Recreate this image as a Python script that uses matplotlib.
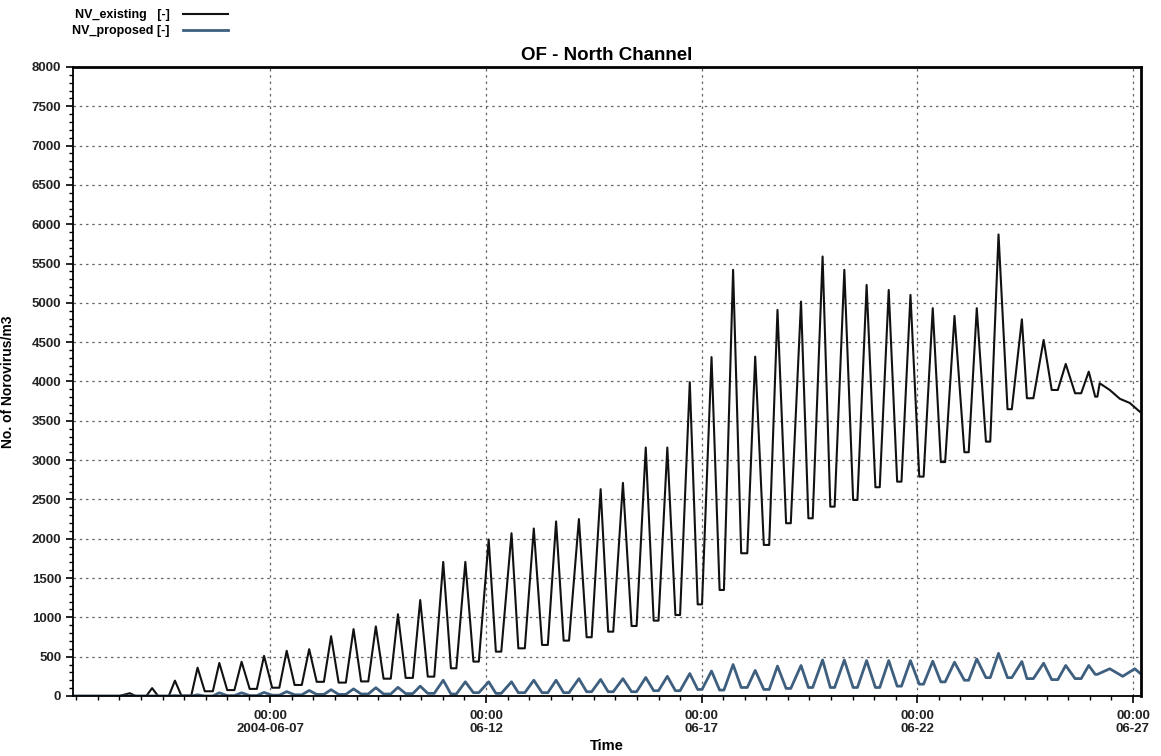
import numpy as np
import pandas as pd
import matplotlib
matplotlib.use('Agg')
import matplotlib.pyplot as plt
import matplotlib.dates as mdates
from matplotlib.ticker import MultipleLocator, FuncFormatter

plt.rcParams['font.family'] = ['Liberation Sans', 'DejaVu Sans']

# times are hours relative to 2004-06-07 00:00
t0 = pd.Timestamp('2004-06-07 00:00')

# one entry per tidal cycle: time of the peak, then start / end of the low water bottom
peak_hours = [-78.2, -65.8, -53.1, -40.5, -28.4, -16.0, -3.5, 9.1, 21.6, 33.8,
              46.3, 58.7, 71.0, 83.4, 96.2, 108.5, 121.5, 134.2, 146.6, 159.0,
              171.7, 183.8, 196.2, 208.9, 220.9, 233.4, 245.5, 257.5, 269.8, 282.2,
              295.3, 307.3, 319.4, 331.8, 344.1, 356.2, 368.6, 380.7, 393.1, 405.2,
              418.2, 430.3, 442.6, 455.4]
low_start_hours = [-75.0, -62.5, -49.5, -36.5, -24.0, -11.5, 1.0, 13.5, 25.8, 38.0,
                   50.5, 63.0, 75.3, 87.6, 100.5, 113.0, 125.5, 138.0, 151.2, 163.2,
                   176.0, 188.0, 201.0, 213.3, 225.4, 237.8, 250.0, 262.0, 274.6, 287.0,
                   299.4, 311.6, 324.3, 336.7, 348.8, 361.1, 373.1, 386.2, 398.2, 410.2,
                   421.0, 434.8, 447.8, 459.0]
low_end_hours = [-69.0, -56.5, -44.0, -32.0, -20.0, -7.5, 5.0, 17.5, 29.8, 42.0,
                 54.5, 67.0, 79.3, 91.2, 103.5, 116.0, 128.5, 141.6, 154.4, 166.2,
                 178.8, 190.8, 203.8, 216.0, 228.0, 240.2, 252.4, 265.4, 277.6, 289.6,
                 301.8, 314.0, 326.7, 339.1, 351.2, 363.5, 375.5, 388.6, 400.6, 412.6,
                 424.6, 438.2, 451.2, 460.2]

existing_peak = [35, 100, 195, 360, 420, 435, 510, 575, 595, 760,
                 850, 885, 1040, 1220, 1705, 1705, 1990, 2070, 2130, 2220,
                 2250, 2630, 2710, 3160, 3160, 3990, 4310, 5420, 4316, 4910,
                 5016, 5590, 5420, 5228, 5164, 5101, 4932, 4834, 4932, 5870,
                 4790, 4528, 4223, 4125]
existing_low = [0, 0, 5, 60, 75, 90, 105, 140, 180, 170,
                185, 220, 230, 246, 352, 437, 564, 606, 649, 704,
                747, 818, 890, 958, 1030, 1165, 1348, 1815, 1921, 2197,
                2260, 2408, 2493, 2655, 2726, 2790, 2975, 3100, 3235, 3647,
                3787, 3892, 3850, 3807]

proposed_peak = [0, 0, 5, 15, 40, 40, 45, 55, 70, 80,
                 90, 105, 110, 125, 200, 180, 180, 180, 200, 200,
                 220, 210, 220, 235, 250, 285, 317, 400, 325, 380,
                 388, 458, 458, 450, 450, 450, 442, 429, 471, 542,
                 438, 417, 388, 388]
proposed_low = [0, 0, 0, 0, 5, 5, 10, 15, 20, 20,
                25, 25, 30, 33, 25, 42, 33, 42, 42, 42,
                54, 54, 54, 67, 67, 83, 75, 108, 83, 96,
                108, 108, 108, 108, 125, 150, 179, 200, 233, 233,
                221, 208, 221, 275]

# start and end of the record
lead_hours = [-109.8, -84.0]
lead_values = [0, 0]
tail_hours_existing = [461.5, 467.1, 472.7, 478.2, 483.8]
tail_existing = [3977, 3892, 3780, 3727, 3616]
tail_hours_proposed = [467.1, 474.3, 481.0, 483.8]
tail_proposed = [346, 250, 346, 292]


def series(peaks, lows, tail_h, tail_v):
    h = np.column_stack([peak_hours, low_start_hours, low_end_hours]).ravel()
    v = np.column_stack([peaks, lows, lows]).ravel()
    h = np.concatenate([lead_hours, h, tail_h])
    v = np.concatenate([lead_values, v, tail_v])
    return t0 + pd.to_timedelta(h, unit='h'), v


ex_t, ex_v = series(existing_peak, existing_low, tail_hours_existing, tail_existing)
pr_t, pr_v = series(proposed_peak, proposed_low, tail_hours_proposed, tail_proposed)

fig = plt.figure(figsize=(11.61, 7.56), dpi=100)
ax = fig.add_axes([0.0629, 0.0794, 0.9199, 0.832])

l1, = ax.plot(ex_t, ex_v, color='#111111', lw=1.5, label='NV_existing   [-]')
l2, = ax.plot(pr_t, pr_v, color='#3f5f7f', lw=2.0, label='NV_proposed [-]')

ax.set_xlim(t0 + pd.Timedelta(hours=-109.8), t0 + pd.Timedelta(hours=484.5))
ax.set_ylim(0, 8000)

ax.yaxis.set_major_locator(MultipleLocator(500))
ax.yaxis.set_minor_locator(MultipleLocator(100))
ax.xaxis.set_major_locator(mdates.DayLocator(bymonthday=[7, 12, 17, 22, 27]))
ax.xaxis.set_minor_locator(mdates.HourLocator(byhour=[0, 12]))


def fmt_date(x, pos):
    d = mdates.num2date(x)
    if d.day == 7:
        return '00:00\n2004-06-07'
    return '00:00\n' + d.strftime('%m-%d')


ax.xaxis.set_major_formatter(FuncFormatter(fmt_date))

ax.grid(True, which='major', color='#666666', linestyle=(0, (2, 3)), lw=0.9)
ax.tick_params(axis='both', which='major', labelsize=9.5, length=5, width=1.2, direction='out')
ax.tick_params(axis='both', which='minor', length=3, width=1.0, direction='out')
ax.tick_params(axis='x', pad=5)
for lab in ax.get_xticklabels() + ax.get_yticklabels():
    lab.set_fontweight('bold')
    lab.set_color('#222222')
for lab in ax.get_xticklabels():
    lab.set_linespacing(1.15)

for s in ['left', 'bottom']:
    ax.spines[s].set_linewidth(1.3)
for s in ['top', 'right']:
    ax.spines[s].set_linewidth(2.0)

ax.set_title('OF - North Channel', fontsize=13.5, fontweight='bold', pad=5)
ax.set_ylabel('No. of Norovirus/m3', fontsize=10, fontweight='bold', labelpad=12)
ax.set_xlabel('Time', fontsize=10.5, fontweight='bold', labelpad=2.5)

fig.legend(handles=[l1, l2], loc='upper left', bbox_to_anchor=(0.062, 0.988),
           frameon=False, markerfirst=False, handlelength=3.6, handletextpad=1.1,
           labelspacing=0.35, borderpad=0, borderaxespad=0,
           prop={'size': 9, 'weight': 'bold'})

fig.savefig('out.png', dpi=100)
